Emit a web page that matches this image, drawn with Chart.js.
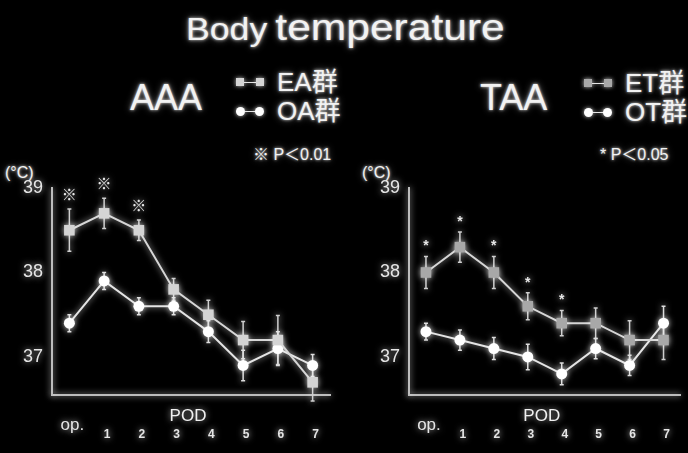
<!DOCTYPE html>
<html>
<head>
<meta charset="utf-8">
<script src="https://cdn.jsdelivr.net/npm/chart.js@4/dist/chart.umd.min.js"></script>
<style>
  html, body { margin: 0; padding: 0; background: #000; }
  #page { position: relative; width: 688px; height: 453px; overflow: hidden; background: #000;
          font-family: "Liberation Sans", "Noto Sans CJK JP", sans-serif; color: #f2f2f2; }
  .glow { text-shadow: 0 0 3px rgba(255,255,255,0.85), 0 0 7px rgba(255,255,255,0.45); }
  .txt { position: absolute; white-space: nowrap; line-height: 1; }
  .box { position: absolute; top: 160px; width: 344px; height: 293px; }
  .mk { position: absolute; background: #e6e6e6; box-shadow: 0 0 4px rgba(255,255,255,0.8); }
</style>
</head>
<body>
<div id="page">
  <div class="txt glow" id="title" style="left:186px; top:9px; transform-origin:0 0; transform:scaleX(1.15);">
    <span style="font-size:31px;">Body</span><span style="font-size:37px; margin-left:7px;">temperature</span>
  </div>

  <div class="txt glow" style="left:130px; top:80px; font-size:36px;">AAA</div>
  <div class="txt glow" style="left:480px; top:80px; font-size:36px;">TAA</div>

  <div id="legendLeft"></div>
  <div id="legendRight"></div>

  <div class="txt glow" id="noteLeft" style="left:253px; top:147px; font-size:16px;"></div>
  <div class="txt glow" id="noteRight" style="left:600px; top:147px; font-size:16px;"></div>

  <div class="txt glow" style="left:5px; top:165px; font-size:16px;">(°C)</div>
  <div class="txt glow" style="left:362px; top:165px; font-size:16px;">(°C)</div>

  <div class="box" style="left:0;"><canvas id="chartLeft"></canvas></div>
  <div class="box" style="left:344px;"><canvas id="chartRight"></canvas></div>
</div>

<script>
// categories (x axis)
const categories = ['op.', '1', '2', '3', '4', '5', '6', '7'];
const yTicks = [37, 38, 39];

// AAA: EA group (squares) / OA group (circles), mean and SD in °C
const eaMean = [38.5, 38.7, 38.5, 37.8, 37.5, 37.2, 37.2, 36.7];
const eaSd   = [0.25, 0.18, 0.12, 0.13, 0.17, 0.22, 0.29, 0.22];
const oaMean = [37.4, 37.9, 37.6, 37.6, 37.3, 36.9, 37.1, 36.9];
const oaSd   = [0.1, 0.1, 0.1, 0.1, 0.13, 0.18, 0.2, 0.13];
const aaaSig = [1, 1, 1, 0, 0, 0, 0, 0];

// TAA: ET group (squares) / OT group (circles)
const etMean = [38.0, 38.3, 38.0, 37.6, 37.4, 37.4, 37.2, 37.2];
const etSd   = [0.19, 0.18, 0.19, 0.16, 0.15, 0.18, 0.23, 0.23];
const otMean = [37.3, 37.2, 37.1, 37.0, 36.8, 37.1, 36.9, 37.4];
const otSd   = [0.1, 0.12, 0.13, 0.15, 0.13, 0.12, 0.12, 0.2];
const taaSig = [1, 1, 1, 1, 1, 0, 0, 0];

const FONT = '"Liberation Sans", "Noto Sans CJK JP", sans-serif';

// --- glow on everything drawn in the canvas ---
const glow = {
  id: 'glow',
  beforeDraw(chart) {
    const ctx = chart.ctx;
    ctx.save();
    ctx.shadowColor = 'rgba(255,255,255,0.75)';
    ctx.shadowBlur = 6;
  },
  afterDraw(chart) {
    chart.ctx.restore();
  }
};

// --- SD bars, drawn under the markers ---
const errorBars = {
  id: 'errorBars',
  beforeDatasetsDraw(chart) {
    const {ctx, scales: {x, y}} = chart;
    chart.data.datasets.forEach(ds => {
      ctx.save();
      ctx.strokeStyle = ds.errorColor;
      ctx.lineWidth = 1.5;
      ds.data.forEach((v, i) => {
        const px = x.getPixelForValue(i);
        const top = y.getPixelForValue(v + ds.sd[i]);
        const bot = y.getPixelForValue(v - ds.sd[i]);
        ctx.beginPath();
        ctx.moveTo(px, top); ctx.lineTo(px, bot);
        ctx.moveTo(px - 2, top); ctx.lineTo(px + 2, top);
        ctx.moveTo(px - 2, bot); ctx.lineTo(px + 2, bot);
        ctx.stroke();
      });
      ctx.restore();
    });
  }
};

// --- significance marks above the first series + "POD" label ---
const extras = {
  id: 'extras',
  afterDatasetsDraw(chart, args, opts) {
    const {ctx, scales: {x, y}, chartArea} = chart;
    const ds = chart.data.datasets[0];
    ctx.save();
    ctx.fillStyle = '#e8e8e8';
    ctx.textAlign = 'center';
    ctx.textBaseline = 'bottom';
    ctx.font = opts.markFont;
    opts.flags.forEach((f, i) => {
      if (!f) return;
      const px = x.getPixelForValue(i);
      const top = y.getPixelForValue(ds.data[i] + ds.sd[i]);
      ctx.fillText(opts.mark, px, top - opts.gap);
    });
    ctx.font = '17px ' + FONT;
    ctx.textBaseline = 'middle';
    ctx.fillStyle = '#f0f0f0';
    ctx.fillText('POD', (chartArea.left + chartArea.right) / 2 - 3, chartArea.bottom + 21);
    ctx.restore();
  }
};

function makeChart(id, names, means, sds, squareColor, flags, mark, markFont, gap, padRight) {
  const ctx = document.getElementById(id).getContext('2d');
  return new Chart(ctx, {
    type: 'line',
    data: {
      labels: categories,
      datasets: [{
        label: names[0],
        data: means[0],
        sd: sds[0],
        errorColor: '#cfcfcf',
        borderColor: '#d6d6d6',
        borderWidth: 2,
        pointStyle: 'rect',
        pointRadius: 7.5,
        pointBorderWidth: 0,
        pointBackgroundColor: squareColor,
        tension: 0,
        clip: false
      }, {
        label: names[1],
        data: means[1],
        sd: sds[1],
        errorColor: '#dedede',
        borderColor: '#e4e4e4',
        borderWidth: 2,
        pointStyle: 'circle',
        pointRadius: 5.5,
        pointBorderWidth: 0,
        pointBackgroundColor: '#ffffff',
        tension: 0,
        clip: false
      }]
    },
    options: {
      responsive: true,
      maintainAspectRatio: false,
      animation: false,
      layout: {padding: {top: 28, right: padRight, left: 0, bottom: 0}},
      plugins: {
        legend: {display: false},
        tooltip: {enabled: false},
        extras: {flags: flags, mark: mark, markFont: markFont, gap: gap}
      },
      scales: {
        x: {
          offset: true,
          grid: {display: false, drawTicks: false},
          border: {display: true, color: '#bdbdbd', width: 2},
          ticks: {
            color: '#e6e6e6',
            padding: 20,
            labelOffset: 3,
            autoSkip: false,
            maxRotation: 0,
            callback: (v, i) => i === 0 ? [categories[0], ''] : ['', categories[i]],
            font: c => c.index === 0
              ? {family: FONT, size: 17}
              : {family: FONT, size: 12, weight: 'bold', lineHeight: 1.07}
          },
          afterFit: s => { s.height = 58; }
        },
        y: {
          min: 36.55,
          max: 39,
          grid: {display: false, drawTicks: false},
          border: {display: true, color: '#bdbdbd', width: 2},
          afterBuildTicks: s => { s.ticks = yTicks.map(v => ({value: v})); },
          ticks: {color: '#e6e6e6', padding: 9, font: {family: FONT, size: 18}},
          afterFit: s => { s.width = padRight > 5 ? 52 : 65; }
        }
      }
    },
    plugins: [glow, errorBars, extras]
  });
}

// --- HTML legends ---
function legend(el, left, top, names, squareColor) {
  const rows = [
    {name: names[0], round: false, color: squareColor},
    {name: names[1], round: true, color: '#ffffff'}
  ];
  let html = '';
  rows.forEach((r, k) => {
    const cy = top + k * 29;
    const rad = r.round ? 'border-radius:50%;' : '';
    const s = r.round ? 9 : 8;
    html += `<div class="mk" style="left:${left}px; top:${cy - s / 2}px; width:${s}px; height:${s}px; background:${r.color}; ${rad}"></div>`;
    html += `<div class="mk" style="left:${left + s}px; top:${cy - 0.5}px; width:${22 - s}px; height:1px;"></div>`;
    html += `<div class="mk" style="left:${left + 28 - s}px; top:${cy - s / 2}px; width:${s}px; height:${s}px; background:${r.color}; ${rad}"></div>`;
    html += `<div class="txt glow" style="left:${left + 41}px; top:${cy - 13}px; font-size:26px;">${r.name}</div>`;
  });
  el.innerHTML = html;
}

legend(document.getElementById('legendLeft'), 236, 82, ['EA群', 'OA群'], '#d4d4d4');
legend(document.getElementById('legendRight'), 584, 83, ['ET群', 'OT群'], '#a8a8a8');
document.getElementById('noteLeft').textContent = '※ P＜0.01';
document.getElementById('noteRight').textContent = '* P＜0.05';

makeChart('chartLeft', ['EA群', 'OA群'], [eaMean, oaMean], [eaSd, oaSd], '#d4d4d4',
  aaaSig, '※', '15px ' + FONT, 6, 14);
makeChart('chartRight', ['ET群', 'OT群'], [etMean, otMean], [etSd, otSd], '#a8a8a8',
  taaSig, '*', 'bold 14px ' + FONT, 3, 1);
</script>
</body>
</html>
